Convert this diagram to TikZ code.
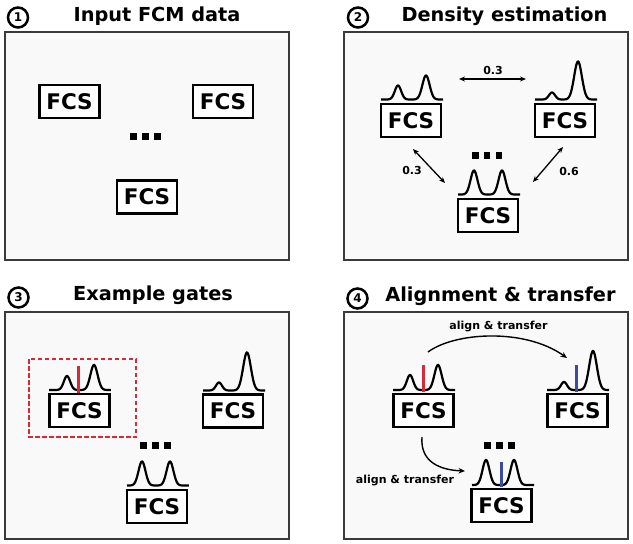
\documentclass[tikz,border=0pt]{standalone}
\usepackage{fontspec}
\setmainfont{DejaVu Sans}
\usetikzlibrary{arrows.meta}
\definecolor{panelfill}{HTML}{F9F9F9}
\definecolor{gred}{HTML}{D8283A}
\definecolor{gblue}{HTML}{3B4C9C}
\definecolor{bord}{HTML}{3A3A3A}
\newcommand{\gmix}[8]{\draw[dist] plot[domain=0:62,samples=100,smooth] ({#1+\x},{#2-#4*exp(-((\x-#3)^2)/#7)-#6*exp(-((\x-#5)^2)/#8)});}
\newcommand{\threedots}[3]{\foreach \i in {0,1,2} \fill ({#1+\i*11.8},#2) rectangle ++(#3,#3);}
\begin{document}
\begin{tikzpicture}[x=1pt,y=-1pt,
  panel/.style={draw=bord,line width=1.7pt,fill=panelfill},
  fcs/.style={draw=black,line width=2.4pt,fill=white,minimum width=60pt,minimum height=33pt,inner sep=0pt,font=\fontsize{21.5}{21.5}\selectfont\bfseries},
  title/.style={font=\fontsize{19.3}{19.3}\selectfont\bfseries,inner sep=0pt,anchor=base},
  num/.style={circle,draw,line width=2.5pt,minimum size=20pt,inner sep=0pt,font=\fontsize{12}{12}\selectfont\bfseries},
  lbl/.style={font=\fontsize{11}{11}\selectfont\bfseries,inner sep=0pt},
  dist/.style={line width=2.2pt,black},
  conn/.style={line width=1.3pt,{Stealth[length=6pt,width=5pt]}-{Stealth[length=6pt,width=5pt]}},
  conn1/.style={line width=1.4pt,-{Stealth[length=6.5pt,width=5.5pt]}},
  gate/.style={line width=3pt}
]
\useasboundingbox[fill=white] (0,0) rectangle (633,544);
% panels
\draw[panel] (5,32) rectangle (289,260);
\draw[panel] (344,32) rectangle (628,260);
\draw[panel] (5,312) rectangle (289,539);
\draw[panel] (344,312) rectangle (628,539);
% titles
\node[num] (n1) at (18,17.5) {1};
\node[title] (t1) at (157,21) {Input FCM data};
\node[num] (n2) at (358,17.5) {2};
\node[title] (t2) at (504.5,21.5) {Density estimation};
\node[num] (n3) at (18.5,297.5) {3};
\node[title] (t3) at (153,300.5) {Example gates};
\node[num] (n4) at (357.5,298.5) {4};
\node[title] (t4) at (500.5,301) {Alignment \& transfer};
% panel 1
\node[fcs] (p1a) at (69.5,101.5) {FCS};
\node[fcs] (p1b) at (223,101.5) {FCS};
\node[fcs] (p1c) at (147,197) {FCS};
\threedots{130}{133}{7}
% panel 2
\node[fcs] (p2a) at (411,120.5) {FCS};
\node[fcs] (p2b) at (565,120.5) {FCS};
\node[fcs] (p2c) at (488,215.5) {FCS};
\gmix{381}{99.5}{17}{14}{45}{24}{20}{26}
\gmix{535}{99.5}{17}{7}{43}{38}{18}{30}
\gmix{458}{194.5}{16}{24}{44}{24}{24}{24}
\threedots{472}{152}{6.5}
\coordinate (a1) at (459,79); \coordinate (a2) at (526,79);
\coordinate (b1) at (413,149); \coordinate (b2) at (445,183);
\coordinate (c1) at (563,147); \coordinate (c2) at (533,182);
\draw[conn] (a1) -- (a2);
\draw[conn] (b1) -- (b2);
\draw[conn] (c1) -- (c2);
\node[lbl] (la) at (493,70) {0.3};
\node[lbl] (lb) at (412,170) {0.3};
\node[lbl] (lc) at (569,171) {0.6};
% panel 3
\node[fcs] (p3a) at (79.5,410.5) {FCS};
\node[fcs] (p3b) at (233,411) {FCS};
\node[fcs] (p3c) at (157,506.5) {FCS};
\gmix{49}{390}{18}{14}{45}{25}{20}{26}
\gmix{203}{390.5}{16}{8}{44}{38}{18}{30}
\gmix{127}{485.5}{15}{24}{43}{24}{24}{24}
\draw[gate,gred] (78,366) -- (78,393);
\draw[gred,line width=1.8pt,dash pattern=on 4.5pt off 2.5pt] (29,359) rectangle (136,437);
\threedots{140}{442}{7}
% panel 4
\node[fcs] (p4a) at (423.5,410.5) {FCS};
\node[fcs] (p4b) at (577.5,410.5) {FCS};
\node[fcs] (p4c) at (501.5,505.5) {FCS};
\gmix{393}{390}{17}{15}{45}{25}{20}{26}
\gmix{547}{390}{17}{8}{46}{39}{18}{30}
\gmix{472}{485}{14}{25}{42}{25}{24}{24}
\draw[gate,gred] (423,365) -- (423,392);
\draw[gate,gblue] (576,365) -- (576,392);
\draw[gate,gblue] (501,462) -- (501,487);
\threedots{484}{442}{7}
\coordinate (d1) at (428,352); \coordinate (d2) at (567,358);
\coordinate (e1) at (422,437); \coordinate (e2) at (465,471);
\draw[conn1] (d1) .. controls (455,332) and (525,328) .. (d2);
\draw[conn1] (e1) .. controls (420,462) and (440,470) .. (e2);
\node[lbl] (ld) at (498.5,327) {align \& transfer};
\node[lbl] (le) at (405,481) {align \& transfer};
\end{tikzpicture}
\end{document}
